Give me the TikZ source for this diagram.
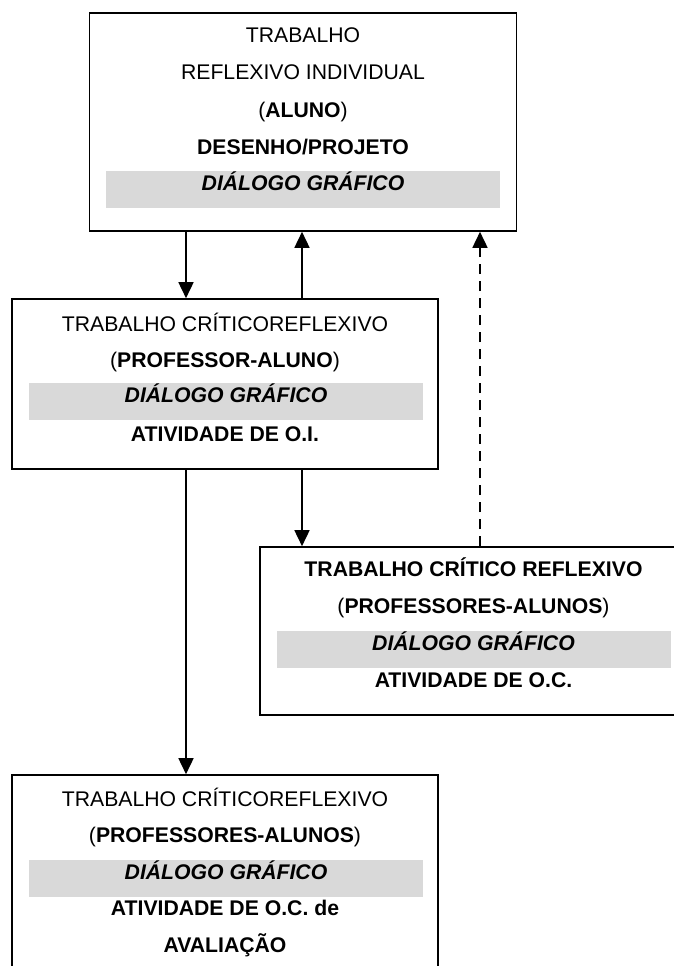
\documentclass[tikz,border=0pt]{standalone}
\usepackage{fontspec}
\setmainfont{Liberation Sans}
\usepackage{tikz}
\usetikzlibrary{arrows.meta,positioning,calc}

\definecolor{bandgray}{RGB}{217,217,217}
\newcommand{\boxfont}{\fontsize{21.2}{37}\selectfont}

\tikzset{
  box/.style={draw, line width=1.6pt, inner sep=0pt},
  txt/.style={anchor=base, inner sep=0pt, font=\boxfont},
  boldtxt/.style={txt, font=\boxfont\bfseries},
  band/.style={fill=bandgray, anchor=base, inner sep=0pt, text height=19pt,
    text depth=18pt, minimum width=394pt, font=\boxfont\bfseries\itshape},
  arr/.style={-{Triangle[length=16pt,width=15pt]}, line width=1.6pt},
}

\begin{document}
\begin{tikzpicture}[x=1pt,y=-1pt]
        \useasboundingbox (0,0) rectangle (674,966);
        % Boxes
        \node[box, minimum width=427pt, minimum height=218pt] (b1) at (303,122) {};
        \node[box, minimum width=426pt, minimum height=170pt] (b2) at (225,384) {};
        \node[box, minimum width=427pt, minimum height=168pt] (b3) at (473.5,631) {};
        \node[box, minimum width=426pt, minimum height=212pt] (b4) at (225,881) {};
        % Individual work
        \node[txt] (t11) at (303,43) {TRABALHO};
        \node[txt] (t12) at (303,80) {REFLEXIVO INDIVIDUAL};
        \node[txt] (t13) at (303,117) {(\textbf{ALUNO})};
        \node[boldtxt] (t14) at (303,154) {DESENHO/PROJETO};
        \node[band] (g1) at (303,190) {DIÁLOGO GRÁFICO};
        % Teacher and student
        \node[txt] (t21) at (225,331) {TRABALHO CRÍTICOREFLEXIVO};
        \node[txt] (t22) at (225,367) {(\textbf{PROFESSOR-ALUNO})};
        \node[band] (g2) at (226,402) {DIÁLOGO GRÁFICO};
        \node[boldtxt] (t24) at (225,441) {ATIVIDADE DE O.I.};
        % Teachers and students
        \node[boldtxt] (t31) at (473.5,576) {TRABALHO CRÍTICO REFLEXIVO};
        \node[txt] (t32) at (473.5,613) {(\textbf{PROFESSORES-ALUNOS})};
        \node[band] (g3) at (473.5,650) {DIÁLOGO GRÁFICO};
        \node[boldtxt] (t34) at (473.5,687) {ATIVIDADE DE O.C.};
        % Assessment
        \node[txt] (t41) at (225,806) {TRABALHO CRÍTICOREFLEXIVO};
        \node[txt] (t42) at (225,842) {(\textbf{PROFESSORES-ALUNOS})};
        \node[band] (g4) at (226,879) {DIÁLOGO GRÁFICO};
        \node[boldtxt] (t44) at (225,915) {ATIVIDADE DE O.C. de};
        \node[boldtxt] (t45) at (225,952) {AVALIAÇÃO};
        % Arrow columns
        \coordinate (colA) at (186,0);
        \coordinate (colB) at (302,0);
        \coordinate (colC) at (480,0);
        % Connectors
        \draw[arr] (b1.south -| colA) -- (b2.north -| colA);
        \draw[arr] (b2.north -| colB) -- (b1.south -| colB);
        \draw[arr] (b2.south -| colB) -- (b3.north -| colB);
        \draw[arr] (b2.south -| colA) -- (b4.north -| colA);
        \draw[arr, dash pattern=on 10pt off 7pt] (b3.north -| colC) -- (b1.south -| colC);
      \end{tikzpicture}
\end{document}
